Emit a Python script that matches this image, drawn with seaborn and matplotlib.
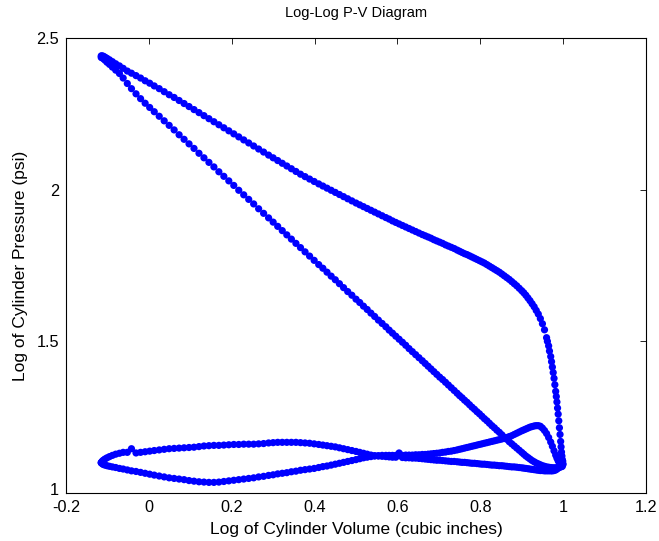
import numpy as np
import pandas as pd
import matplotlib
matplotlib.use("Agg")
import matplotlib.pyplot as plt
import matplotlib.transforms as mtransforms
import seaborn as sns

# Log10 of cylinder volume over one piston stroke (TDC -> BDC)
stroke_log_volume = [
    -0.115, -0.113, -0.110, -0.106, -0.101, -0.095, -0.088, -0.080, -0.071, -0.062,
    -0.052, -0.042, -0.031, -0.020, -0.009, 0.002, 0.013, 0.025, 0.037, 0.049,
    0.061, 0.073, 0.085, 0.097, 0.109, 0.121, 0.133, 0.145, 0.157, 0.169,
    0.181, 0.193, 0.205, 0.217, 0.229, 0.241, 0.253, 0.265, 0.277, 0.289,
    0.300, 0.311, 0.322, 0.333, 0.344, 0.355, 0.366, 0.377, 0.388, 0.399,
    0.410, 0.420, 0.430, 0.440, 0.450, 0.460, 0.470, 0.480, 0.490, 0.500,
    0.509, 0.518, 0.527, 0.536, 0.545, 0.554, 0.563, 0.572, 0.580, 0.588,
    0.596, 0.604, 0.612, 0.620, 0.628, 0.636, 0.644, 0.652, 0.660, 0.667,
    0.674, 0.681, 0.688, 0.695, 0.702, 0.709, 0.716, 0.723, 0.730, 0.737,
    0.744, 0.750, 0.756, 0.762, 0.768, 0.774, 0.780, 0.786, 0.792, 0.798,
    0.804, 0.810, 0.816, 0.822, 0.828, 0.834, 0.840, 0.846, 0.852, 0.858,
    0.864, 0.870, 0.876, 0.882, 0.888, 0.894, 0.900, 0.905, 0.910, 0.915,
    0.920, 0.925, 0.930, 0.935, 0.940, 0.945, 0.950, 0.955, 0.960, 0.965,
    0.970, 0.974, 0.978, 0.982, 0.985, 0.988, 0.991, 0.994, 0.996, 0.998,
]

# Log10 of cylinder pressure for each stroke, at the volumes above
expansion_log_pressure = [
    2.441, 2.441, 2.440, 2.437, 2.433, 2.428, 2.422, 2.415, 2.408, 2.400,
    2.391, 2.384, 2.376, 2.368, 2.359, 2.351, 2.342, 2.333, 2.323, 2.313,
    2.304, 2.294, 2.284, 2.274, 2.264, 2.254, 2.244, 2.234, 2.224, 2.214,
    2.204, 2.194, 2.184, 2.174, 2.164, 2.154, 2.144, 2.134, 2.124, 2.114,
    2.105, 2.096, 2.087, 2.078, 2.069, 2.060, 2.051, 2.043, 2.035, 2.027,
    2.019, 2.012, 2.005, 1.998, 1.991, 1.984, 1.977, 1.970, 1.963, 1.956,
    1.950, 1.944, 1.938, 1.932, 1.926, 1.920, 1.914, 1.908, 1.903, 1.897,
    1.892, 1.887, 1.882, 1.877, 1.872, 1.867, 1.862, 1.857, 1.852, 1.848,
    1.844, 1.840, 1.835, 1.831, 1.827, 1.823, 1.818, 1.814, 1.810, 1.806,
    1.801, 1.797, 1.793, 1.789, 1.786, 1.782, 1.778, 1.774, 1.770, 1.766,
    1.762, 1.758, 1.753, 1.748, 1.743, 1.738, 1.733, 1.728, 1.722, 1.716,
    1.710, 1.704, 1.697, 1.690, 1.683, 1.675, 1.667, 1.660, 1.652, 1.643,
    1.634, 1.624, 1.614, 1.602, 1.590, 1.575, 1.558, 1.538, 1.512, 1.485,
    1.450, 1.415, 1.378, 1.335, 1.300, 1.260, 1.215, 1.170, 1.135, 1.110,
]

compression_log_pressure = [
    2.436, 2.435, 2.432, 2.427, 2.420, 2.413, 2.404, 2.394, 2.383, 2.368,
    2.350, 2.333, 2.316, 2.300, 2.285, 2.271, 2.257, 2.242, 2.227, 2.212,
    2.197, 2.181, 2.166, 2.151, 2.136, 2.120, 2.105, 2.090, 2.075, 2.059,
    2.044, 2.029, 2.014, 1.998, 1.983, 1.968, 1.953, 1.937, 1.922, 1.907,
    1.893, 1.879, 1.865, 1.851, 1.837, 1.823, 1.809, 1.795, 1.781, 1.767,
    1.753, 1.741, 1.728, 1.715, 1.703, 1.690, 1.677, 1.664, 1.652, 1.639,
    1.628, 1.616, 1.605, 1.593, 1.582, 1.570, 1.559, 1.548, 1.537, 1.527,
    1.517, 1.507, 1.497, 1.487, 1.476, 1.466, 1.456, 1.446, 1.436, 1.427,
    1.418, 1.409, 1.400, 1.391, 1.382, 1.374, 1.365, 1.356, 1.347, 1.338,
    1.329, 1.321, 1.314, 1.306, 1.299, 1.291, 1.283, 1.276, 1.268, 1.261,
    1.253, 1.245, 1.238, 1.230, 1.222, 1.215, 1.207, 1.200, 1.192, 1.184,
    1.177, 1.169, 1.162, 1.155, 1.148, 1.141, 1.134, 1.128, 1.122, 1.117,
    1.112, 1.107, 1.103, 1.099, 1.096, 1.093, 1.090, 1.088, 1.086, 1.085,
    1.084, 1.083, 1.083, 1.083, 1.083, 1.084, 1.085, 1.086, 1.087, 1.088,
]

exhaust_log_pressure = [
    1.100, 1.104, 1.108, 1.112, 1.116, 1.120, 1.124, 1.128, 1.131, 1.134,
    1.134, 1.146, 1.132, 1.134, 1.136, 1.138, 1.140, 1.142, 1.144, 1.146,
    1.147, 1.148, 1.149, 1.150, 1.151, 1.153, 1.155, 1.156, 1.157, 1.157,
    1.158, 1.159, 1.160, 1.160, 1.161, 1.161, 1.161, 1.162, 1.163, 1.165,
    1.166, 1.167, 1.167, 1.167, 1.167, 1.167, 1.166, 1.165, 1.164, 1.162,
    1.160, 1.158, 1.156, 1.154, 1.152, 1.149, 1.146, 1.143, 1.140, 1.137,
    1.134, 1.131, 1.128, 1.125, 1.123, 1.122, 1.121, 1.120, 1.119, 1.118,
    1.118, 1.132, 1.117, 1.116, 1.116, 1.115, 1.115, 1.114, 1.113, 1.112,
    1.111, 1.110, 1.109, 1.108, 1.108, 1.107, 1.106, 1.105, 1.104, 1.104,
    1.103, 1.102, 1.101, 1.101, 1.100, 1.099, 1.098, 1.098, 1.097, 1.096,
    1.095, 1.095, 1.094, 1.093, 1.092, 1.092, 1.091, 1.090, 1.090, 1.089,
    1.088, 1.087, 1.086, 1.086, 1.085, 1.084, 1.083, 1.082, 1.081, 1.080,
    1.079, 1.078, 1.077, 1.076, 1.075, 1.074, 1.074, 1.073, 1.073, 1.073,
    1.073, 1.073, 1.074, 1.076, 1.079, 1.082, 1.086, 1.090, 1.094, 1.098,
]

intake_log_pressure = [
    1.100, 1.097, 1.094, 1.092, 1.090, 1.088, 1.086, 1.084, 1.081, 1.079,
    1.076, 1.073, 1.071, 1.068, 1.065, 1.062, 1.059, 1.056, 1.053, 1.050,
    1.048, 1.046, 1.044, 1.041, 1.039, 1.037, 1.036, 1.035, 1.035, 1.036,
    1.038, 1.040, 1.042, 1.044, 1.046, 1.048, 1.050, 1.053, 1.055, 1.058,
    1.060, 1.063, 1.065, 1.067, 1.070, 1.072, 1.075, 1.077, 1.079, 1.081,
    1.084, 1.087, 1.089, 1.092, 1.095, 1.098, 1.101, 1.104, 1.107, 1.110,
    1.113, 1.116, 1.118, 1.120, 1.122, 1.123, 1.124, 1.124, 1.124, 1.124,
    1.124, 1.124, 1.124, 1.125, 1.125, 1.125, 1.126, 1.126, 1.127, 1.127,
    1.128, 1.129, 1.130, 1.131, 1.132, 1.134, 1.135, 1.137, 1.138, 1.140,
    1.142, 1.144, 1.146, 1.148, 1.150, 1.152, 1.154, 1.156, 1.158, 1.160,
    1.162, 1.164, 1.166, 1.168, 1.170, 1.172, 1.174, 1.176, 1.178, 1.180,
    1.183, 1.186, 1.189, 1.193, 1.197, 1.201, 1.205, 1.208, 1.211, 1.214,
    1.217, 1.219, 1.221, 1.222, 1.222, 1.220, 1.214, 1.206, 1.196, 1.183,
    1.168, 1.154, 1.139, 1.125, 1.115, 1.106, 1.099, 1.094, 1.092, 1.092,
]

# Extra samples around bottom dead centre during blowdown
blowdown_log_volume = [0.962, 0.967, 0.972, 0.976, 0.980, 0.9835, 0.9865,
                       0.9895, 0.9925, 0.995, 0.997, 0.999, 1.000]
blowdown_log_pressure = [1.500, 1.468, 1.433, 1.397, 1.357, 1.318, 1.280,
                         1.238, 1.193, 1.152, 1.122, 1.105, 1.095]

x_ticks = [-0.2, 0.0, 0.2, 0.4, 0.6, 0.8, 1.0, 1.2]
x_tick_labels = ["-0.2", "0", "0.2", "0.4", "0.6", "0.8", "1", "1.2"]
y_ticks = [1.0, 1.5, 2.0, 2.5]
y_tick_labels = ["1", "1.5", "2", "2.5"]

frames = []
for name, pressure in [("expansion", expansion_log_pressure),
                       ("exhaust", exhaust_log_pressure),
                       ("intake", intake_log_pressure),
                       ("compression", compression_log_pressure)]:
    frames.append(pd.DataFrame({"logV": stroke_log_volume, "logP": pressure, "stroke": name}))
frames.append(pd.DataFrame({"logV": blowdown_log_volume, "logP": blowdown_log_pressure,
                            "stroke": "blowdown"}))
df = pd.concat(frames, ignore_index=True)

sns.set_theme(style="white")
plt.rcParams["font.family"] = ["Liberation Sans", "DejaVu Sans"]

fig = plt.figure(figsize=(6.59, 5.41), dpi=100)
ax = fig.add_axes([66 / 659, 48 / 541, 580 / 659, 455 / 541])
sns.scatterplot(data=df, x="logV", y="logP", color="#0000ff", s=27,
                linewidth=0, edgecolor="none", ax=ax, legend=False)

ax.set_xlim(-0.2, 1.2)
ax.set_ylim(1.0, 2.5)
ax.set_xticks(x_ticks)
ax.set_xticklabels(x_tick_labels)
ax.set_yticks(y_ticks)
ax.set_yticklabels(y_tick_labels)
ax.tick_params(direction="in", length=4, width=0.6, color="black",
               top=True, right=True, labelsize=11.7, labelcolor="black", pad=5)
for sp in ax.spines.values():
    sp.set_visible(True)
    sp.set_color("black")
    sp.set_linewidth(0.8)

# lift the lowest y tick label slightly, as in the reference
lbl = ax.get_yticklabels()[0]
lbl.set_transform(lbl.get_transform() + mtransforms.ScaledTranslation(0, 3 / 72, fig.dpi_scale_trans))

ax.set_title("Log-Log P-V Diagram", fontsize=10.5, color="black", pad=15)
ax.set_xlabel("Log of Cylinder Volume (cubic inches)", fontsize=12.5, color="black", labelpad=5)
ax.set_ylabel("Log of Cylinder Pressure (psi)", fontsize=12.5, color="black", labelpad=6)

fig.savefig("out.png", dpi=100, facecolor="white")
